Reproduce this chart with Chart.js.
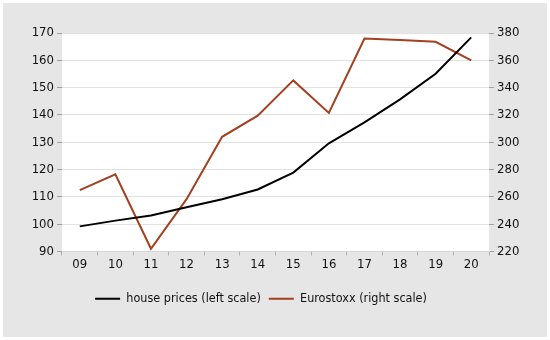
<!DOCTYPE html>
<html>
<head>
<meta charset="utf-8">
<script src="https://cdn.jsdelivr.net/npm/chart.js@4"></script>
<style>
  html, body { margin: 0; padding: 0; background: #fff; }
  #wrap { width: 550px; height: 340px; }
</style>
</head>
<body>
<div id="wrap"><canvas id="myChart" width="550" height="340"></canvas></div>
<script>
// years on the x axis
const years = ['09', '10', '11', '12', '13', '14', '15', '16', '17', '18', '19', '20'];

// house prices, left scale
const housePrices = [99.2, 101.3, 103.2, 106.2, 109.1, 112.7, 118.9, 129.6, 137.3, 145.7, 155.1, 168.4];

// Eurostoxx, right scale
const eurostoxx = [265, 276.5, 222, 258.3, 304, 319.5, 345.3, 321.5, 376, 374.8, 373.6, 359.9];

const leftTicks = [90, 100, 110, 120, 130, 140, 150, 160, 170];
const rightTicks = [220, 240, 260, 280, 300, 320, 340, 360, 380];

const fontFamily = '"DejaVu Sans Condensed", "DejaVu Sans", sans-serif';

const panelBg = {
    id: 'panelBg',
    afterLayout(chart) {
        // legend sits a bit left of centre in the original
        chart.legend.left -= 14;
        chart.legend.right -= 14;
    },
    beforeDraw(chart) {
        const ctx = chart.ctx;
        const a = chart.chartArea;
        ctx.save();
        ctx.fillStyle = '#ffffff';
        ctx.fillRect(0, 0, chart.width, chart.height);
        ctx.fillStyle = '#e6e6e6';
        ctx.fillRect(3, 3, chart.width - 6, chart.height - 6);
        ctx.fillStyle = '#ffffff';
        ctx.fillRect(a.left, a.top, a.right - a.left, a.bottom - a.top);
        ctx.restore();
    }
};

new Chart(document.getElementById('myChart'), {
    type: 'line',
    data: {
        labels: years,
        datasets: [
            {
                label: 'house prices (left scale)',
                data: housePrices,
                yAxisID: 'y',
                borderColor: '#000000',
                backgroundColor: '#000000',
                borderWidth: 2,
                pointRadius: 0,
                tension: 0
            },
            {
                label: 'Eurostoxx (right scale)',
                data: eurostoxx,
                yAxisID: 'y1',
                borderColor: '#a3401f',
                backgroundColor: '#a3401f',
                borderWidth: 2,
                pointRadius: 0,
                tension: 0
            }
        ]
    },
    options: {
        responsive: false,
        animation: false,
        layout: { padding: { left: 3, right: 3, top: 33, bottom: 25 } },
        plugins: {
            tooltip: { enabled: false },
            legend: {
                position: 'bottom',
                labels: {
                    usePointStyle: true,
                    pointStyle: 'line',
                    pointStyleWidth: 25,
                    padding: 8,
                    color: '#111',
                    font: { family: fontFamily, size: 12.5 }
                }
            }
        },
        scales: {
            x: {
                offset: true,
                grid: { offset: true, drawOnChartArea: false, drawTicks: true, tickLength: 4, color: '#b0b0b0' },
                border: { color: '#d8d8d8' },
                ticks: { color: '#111', padding: 1, font: { family: fontFamily, size: 13 } },
                afterFit(axis) { axis.height = 33; }
            },
            y: {
                position: 'left',
                min: 90,
                max: 170,
                afterBuildTicks(axis) { axis.ticks = leftTicks.map(v => ({ value: v })); },
                grid: { color: '#e2e2e2', tickLength: 5, tickColor: '#a0a0a0' },
                border: { display: false },
                ticks: { color: '#111', padding: 3, font: { family: fontFamily, size: 13 } },
                afterFit(axis) { axis.width = 59; }
            },
            y1: {
                position: 'right',
                min: 220,
                max: 380,
                afterBuildTicks(axis) { axis.ticks = rightTicks.map(v => ({ value: v })); },
                grid: { drawOnChartArea: false, tickLength: 5, tickColor: '#a0a0a0' },
                border: { display: false },
                ticks: { color: '#111', padding: 3, font: { family: fontFamily, size: 13 } },
                afterFit(axis) { axis.width = 58; }
            }
        }
    },
    plugins: [panelBg]
});
</script>
</body>
</html>
